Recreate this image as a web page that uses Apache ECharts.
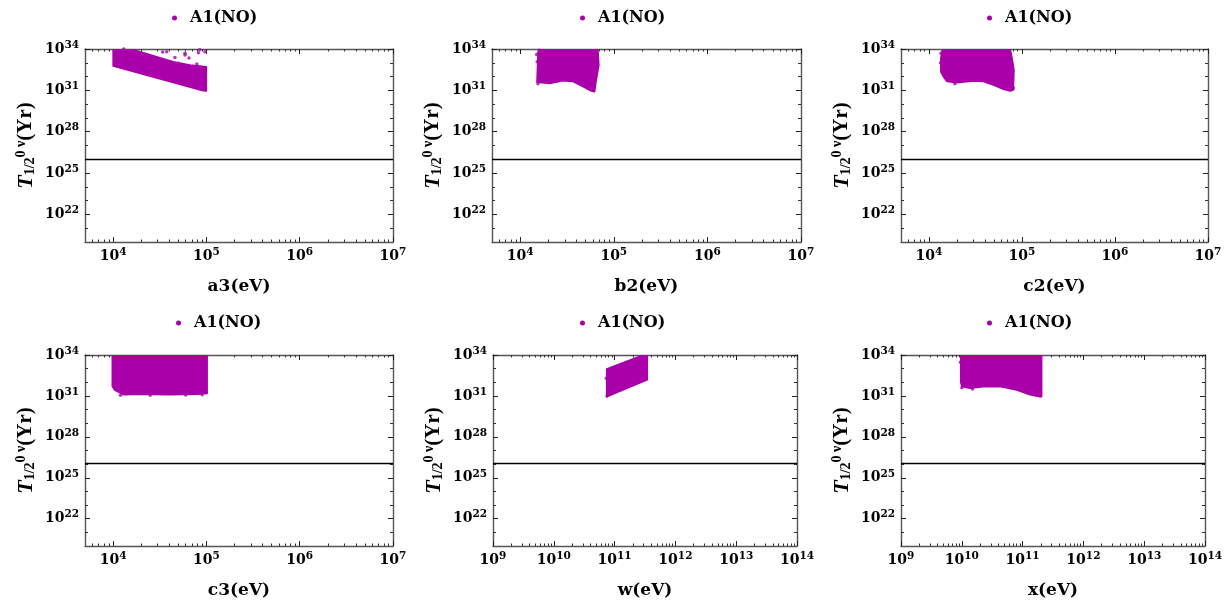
<!DOCTYPE html>
<html><head><meta charset="utf-8">
<script src="https://cdn.jsdelivr.net/npm/echarts@6/dist/echarts.min.js"></script>
<style>html,body{margin:0;padding:0;background:#fff}#c{width:1231px;height:608px}</style>
</head><body><div id="c"></div>
<script>
// ---------------- data ----------------
const seriesName = 'A1(NO)';
const xNames = ['a3(eV)', 'b2(eV)', 'c2(eV)', 'c3(eV)', 'w(eV)', 'x(eV)'];
const limitHalfLife = 1.07e26;

const yRange = [1e20, 1e34];
const yLabelTicks = [1e22, 1e25, 1e28, 1e31, 1e34];
const yMinorTicks = [1e21, 1e23, 1e24, 1e26, 1e27, 1e29, 1e30, 1e32, 1e33];

const xRangeLow = [5e3, 1e7];
const xLabelTicksLow = [1e4, 1e5, 1e6, 1e7];
const xMinorTicksLow = [6e3, 7e3, 8e3, 9e3,
  2e4, 3e4, 4e4, 5e4, 6e4, 7e4, 8e4, 9e4,
  2e5, 3e5, 4e5, 5e5, 6e5, 7e5, 8e5, 9e5,
  2e6, 3e6, 4e6, 5e6, 6e6, 7e6, 8e6, 9e6];

const xRangeHigh = [1e9, 1e14];
const xLabelTicksHigh = [1e9, 1e10, 1e11, 1e12, 1e13, 1e14];
const xMinorTicksHigh = [2e9, 3e9, 4e9, 5e9, 6e9, 7e9, 8e9, 9e9,
  2e10, 3e10, 4e10, 5e10, 6e10, 7e10, 8e10, 9e10,
  2e11, 3e11, 4e11, 5e11, 6e11, 7e11, 8e11, 9e11,
  2e12, 3e12, 4e12, 5e12, 6e12, 7e12, 8e12, 9e12,
  2e13, 3e13, 4e13, 5e13, 6e13, 7e13, 8e13, 9e13];

// dense scatter regions (outline of the point cloud) and sparse points
const a3Region = [[1.0e4, 1e34], [1.55e4, 1e34], [1.95e4, 6.3e33], [2.93e4, 2.75e33], [4.42e4, 1.2e33],
  [6.67e4, 6.9e32], [1.0e5, 5.2e32], [1.0e5, 9e30], [9.2e4, 9.5e30], [1.0e4, 5.9e32]];
const a3Points = [[3.76e4, 6.3e33], [5.9e4, 3.6e33], [8.2e4, 5.4e33], [9.66e4, 6.3e33], [5.0e4, 9.1e32],
  [7.9e4, 8.1e32], [8.5e4, 9e33], [3.4e4, 6e33], [5.9e4, 5e33], [1.3e4, 1e34], [4.6e4, 2.4e33], [6.5e4, 2.2e33]];

const b2Region = [[1.55e4, 6.3e33], [1.68e4, 1e34], [6.76e4, 1e34], [6.93e4, 6.9e32], [6.5e4, 5.6e31],
  [6.24e4, 8e30], [5.75e4, 9e30], [4.68e4, 1.9e31], [3.66e4, 4.3e31], [2.86e4, 5e31], [2.07e4, 3.2e31], [1.51e4, 3.9e31]];
const b2Points = [[1.5e4, 4e33], [1.52e4, 1.2e33], [1.6e4, 8e33], [1.55e4, 3e31]];

const c2Region = [[1.38e4, 7.6e33], [1.6e4, 1e34], [7.45e4, 1e34], [7.77e4, 2.8e33], [8.2e4, 3e32],
  [8.07e4, 1.07e31], [7.45e4, 8.9e30], [6.31e4, 1.2e31], [4.93e4, 2.45e31], [3.85e4, 4.3e31],
  [3.0e4, 4.8e31], [2.0e4, 3.6e31], [1.56e4, 4.3e31], [1.43e4, 9.8e31], [1.34e4, 2.2e32], [1.34e4, 2.2e33]];
const c2Points = [[1.35e4, 5e33], [1.33e4, 1e33], [1.9e4, 3e31], [8.1e4, 1.5e31]];

const c3Region = [[9.8e3, 1e34], [1.02e5, 1e34], [1.02e5, 1.5e31], [8e4, 1.3e31], [4e4, 1.2e31],
  [2e4, 1.3e31], [1.3e4, 1.2e31], [1.04e4, 2.7e31], [9.8e3, 5e31]];
const c3Points = [[1.2e4, 1.1e31], [2.5e4, 1.1e31], [6e4, 1.15e31], [9e4, 1.2e31]];

const wRegion = [[7.4e10, 9.3e32], [2.95e11, 1e34], [3.45e11, 1e34], [3.45e11, 1.5e32], [7.4e10, 8.7e30]];
const wPoints = [[7.3e10, 2e32], [7.5e10, 1e31]];

const xRegion = [[9.6e9, 1e32], [9.6e9, 9e33], [1.05e10, 1e34], [2.06e11, 1e34], [2.06e11, 8.7e30],
  [1.93e11, 8.7e30], [1.32e11, 1.2e31], [8e10, 2.7e31], [4.25e10, 4.8e31], [2.26e10, 4.8e31],
  [1.36e10, 3.6e31], [1e10, 4.8e31]];
const xPoints = [[1.0e10, 4e31], [1.5e10, 3.2e31], [9.5e9, 3e33]];

// ---------------- layout / style ----------------
const COLOR = '#aa00aa';
const FRAME = '#555';
const SERIF_W = 'DejaVu Serif';
const SERIF = 'Liberation Serif';

const panels = [
  { region: a3Region, pts: a3Points, xr: xRangeLow, xl: xLabelTicksLow, xm: xMinorTicksLow, rect: [85, 49, 308, 193], legend: [167, 5] },
  { region: b2Region, pts: b2Points, xr: xRangeLow, xl: xLabelTicksLow, xm: xMinorTicksLow, rect: [492, 49, 309, 193], legend: [575, 5] },
  { region: c2Region, pts: c2Points, xr: xRangeLow, xl: xLabelTicksLow, xm: xMinorTicksLow, rect: [901, 49, 307, 193], legend: [982, 5] },
  { region: c3Region, pts: c3Points, xr: xRangeLow, xl: xLabelTicksLow, xm: xMinorTicksLow, rect: [85, 355, 308, 191], legend: [171, 310] },
  { region: wRegion, pts: wPoints, xr: xRangeHigh, xl: xLabelTicksHigh, xm: xMinorTicksHigh, rect: [493, 355, 304, 191], legend: [575, 310] },
  { region: xRegion, pts: xPoints, xr: xRangeHigh, xl: xLabelTicksHigh, xm: xMinorTicksHigh, rect: [901, 355, 304, 191], legend: [982, 310] }
];

const powRich = {
  b: { fontFamily: SERIF_W, fontWeight: 'bold', fontSize: 14, color: '#000' },
  s: { fontFamily: SERIF_W, fontWeight: 'bold', fontSize: 10.5, color: '#000', padding: [0, 0, 8, 0] }
};
function powFmt(v) {
  const e = Math.round(Math.log10(v));
  if (Math.abs(Math.log10(v) - e) > 1e-6) return '';
  return '{b|10}{s|' + e + '}';
}

const grid = [], xAxis = [], yAxis = [], series = [], legend = [];
panels.forEach((p, i) => {
  const [l, t, w, h] = p.rect;
  const gMain = grid.length;
  grid.push({ left: l, top: t, width: w, height: h });
  const gMinor = grid.length;
  grid.push({ left: l, top: t, width: w, height: h });

  const xMainIdx = xAxis.length;
  const frameLine = { show: true, lineStyle: { color: FRAME, width: 1.4 } };
  xAxis.push({
    gridIndex: gMain, type: 'log', logBase: 10, min: p.xr[0], max: p.xr[1], position: 'bottom',
    axisLine: frameLine,
    axisTick: { show: true, inside: true, length: 5, customValues: p.xl, lineStyle: { color: '#222' } },
    axisLabel: { customValues: p.xl, formatter: powFmt, rich: powRich, margin: 5, showMinLabel: true, showMaxLabel: true },
    splitLine: { show: false },
    name: xNames[i], nameLocation: 'middle', nameGap: 36,
    nameTextStyle: { fontFamily: SERIF_W, fontWeight: 'bold', fontSize: 17, color: '#000' }
  });
  xAxis.push({
    gridIndex: gMain, type: 'log', logBase: 10, min: p.xr[0], max: p.xr[1], position: 'top',
    axisLine: frameLine,
    axisTick: { show: true, inside: true, length: 5, customValues: p.xl, lineStyle: { color: '#222' } },
    axisLabel: { show: false }, splitLine: { show: false }
  });
  xAxis.push({
    gridIndex: gMinor, type: 'log', logBase: 10, min: p.xr[0], max: p.xr[1], position: 'bottom',
    axisLine: { show: false },
    axisTick: { show: true, inside: true, length: 2.5, customValues: p.xm, lineStyle: { color: '#333' } },
    axisLabel: { show: false }, splitLine: { show: false }
  });
  xAxis.push({
    gridIndex: gMinor, type: 'log', logBase: 10, min: p.xr[0], max: p.xr[1], position: 'top',
    axisLine: { show: false },
    axisTick: { show: true, inside: true, length: 2.5, customValues: p.xm, lineStyle: { color: '#333' } },
    axisLabel: { show: false }, splitLine: { show: false }
  });

  const yMainIdx = yAxis.length;
  yAxis.push({
    gridIndex: gMain, type: 'log', logBase: 10, min: yRange[0], max: yRange[1], position: 'left',
    axisLine: frameLine,
    axisTick: { show: true, inside: true, length: 5, customValues: yLabelTicks, lineStyle: { color: '#222' } },
    axisLabel: { customValues: yLabelTicks, formatter: powFmt, rich: powRich, margin: 6 },
    splitLine: { show: false },
    name: '{t|T}{sub|1/2}{sup|0 ν}{n|(Yr)}', nameLocation: 'middle', nameGap: 47, nameRotate: 90,
    nameTextStyle: {
      rich: {
        t: { fontFamily: SERIF, fontWeight: 'bold', fontStyle: 'italic', fontSize: 22, color: '#000' },
        sub: { fontFamily: SERIF, fontWeight: 'bold', fontSize: 14, color: '#000', padding: [9, 0, 0, 0] },
        sup: { fontFamily: SERIF, fontWeight: 'bold', fontSize: 14, color: '#000', padding: [0, 0, 10, 0] },
        n: { fontFamily: SERIF, fontWeight: 'bold', fontSize: 21, color: '#000' }
      }
    }
  });
  yAxis.push({
    gridIndex: gMain, type: 'log', logBase: 10, min: yRange[0], max: yRange[1], position: 'right',
    axisLine: frameLine,
    axisTick: { show: true, inside: true, length: 5, customValues: yLabelTicks, lineStyle: { color: '#222' } },
    axisLabel: { show: false }, splitLine: { show: false }
  });
  yAxis.push({
    gridIndex: gMinor, type: 'log', logBase: 10, min: yRange[0], max: yRange[1], position: 'left',
    axisLine: { show: false },
    axisTick: { show: true, inside: true, length: 3, customValues: yMinorTicks, lineStyle: { color: '#333' } },
    axisLabel: { show: false }, splitLine: { show: false }
  });
  yAxis.push({
    gridIndex: gMinor, type: 'log', logBase: 10, min: yRange[0], max: yRange[1], position: 'right',
    axisLine: { show: false },
    axisTick: { show: true, inside: true, length: 3, customValues: yMinorTicks, lineStyle: { color: '#333' } },
    axisLabel: { show: false }, splitLine: { show: false }
  });

  const region = p.region;
  series.push({
    type: 'custom', name: seriesName, xAxisIndex: xMainIdx, yAxisIndex: yMainIdx,
    clip: true, silent: true, itemStyle: { color: COLOR },
    data: region,
    renderItem: function (params, api) {
      if (params.dataIndex !== 0) return null;
      const pts = region.map(d => api.coord(d));
      return { type: 'polygon', shape: { points: pts }, style: { fill: COLOR, stroke: COLOR, lineWidth: 1.5, lineJoin: 'round' } };
    }
  });
  series.push({
    type: 'scatter', name: seriesName, xAxisIndex: xMainIdx, yAxisIndex: yMainIdx,
    symbol: 'circle', symbolSize: 3.5, itemStyle: { color: COLOR }, silent: true,
    data: p.pts,
    markLine: {
      silent: true, symbol: 'none', label: { show: false },
      lineStyle: { color: '#000', width: 1.3, type: 'solid' },
      data: [{ yAxis: limitHalfLife }]
    }
  });

  legend.push({
    data: [{ name: seriesName, icon: 'circle' }], left: p.legend[0], top: p.legend[1],
    itemWidth: 5, itemHeight: 5, selectedMode: false,
    textStyle: { fontFamily: SERIF_W, fontWeight: 'bold', fontSize: 16, color: '#000', padding: [0, 0, 0, 8] }
  });
});

const chart = echarts.init(document.getElementById('c'), null, { renderer: 'canvas' });
chart.setOption({ animation: false, backgroundColor: '#fff', grid, xAxis, yAxis, series, legend });
</script>
</body></html>
